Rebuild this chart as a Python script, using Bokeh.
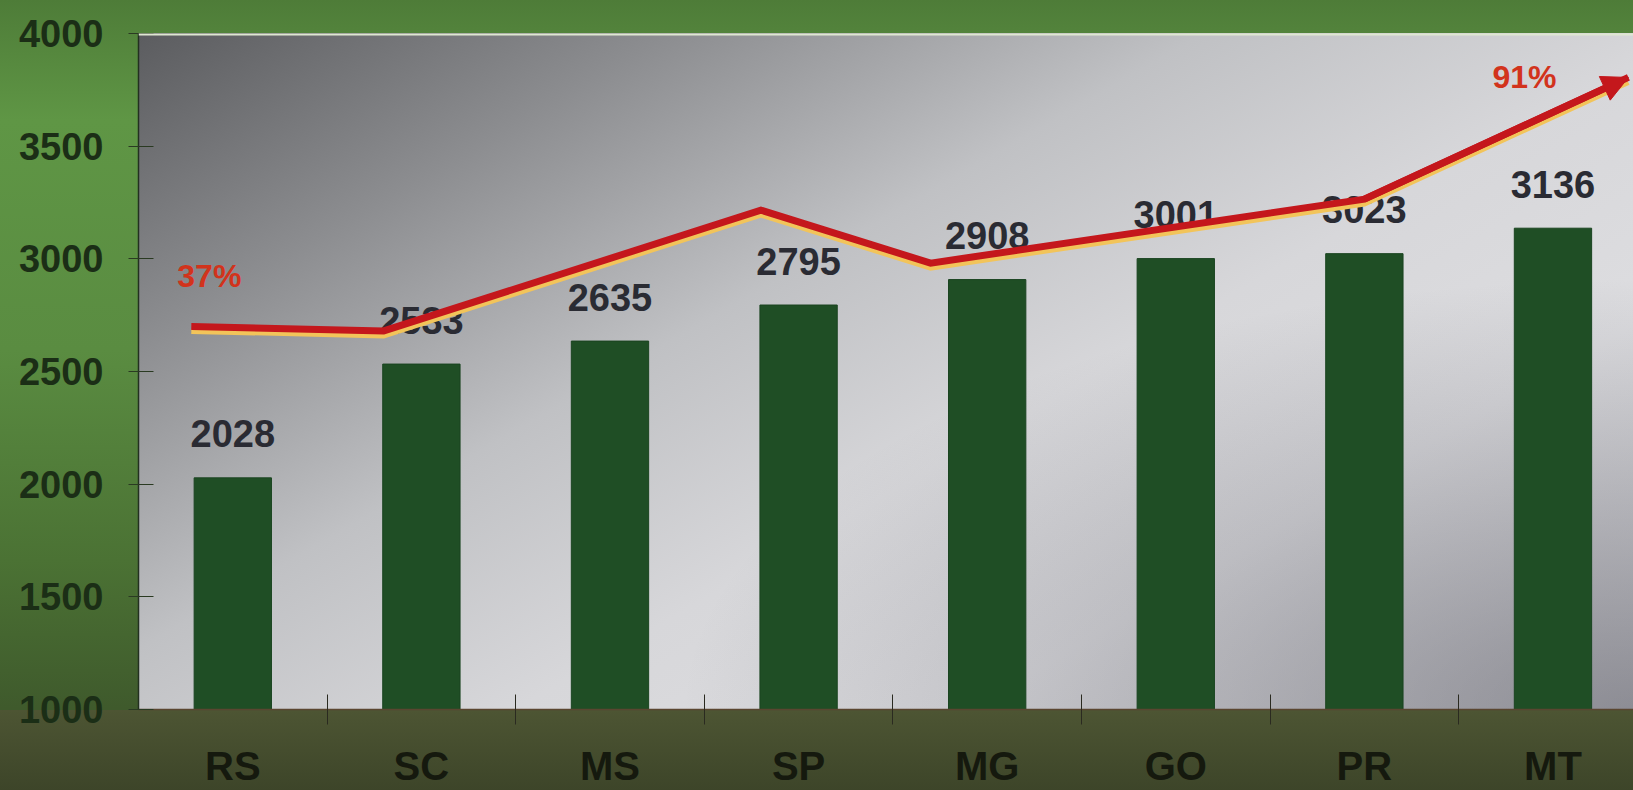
import numpy as np
from bokeh.plotting import figure
from bokeh.models import (Range1d, FixedTicker, Span, Arrow, NormalHead,
                          ColumnDataSource)
from bokeh.core.properties import value
from bokeh.transform import dodge
from bokeh.embed import file_html
from bokeh.resources import INLINE

# ---------------- data ----------------
categories = ["RS", "SC", "MS", "SP", "MG", "GO", "PR", "MT"]
values = [2028, 2533, 2635, 2795, 2908, 3001, 3023, 3136]
y_ticks = [1000, 1500, 2000, 2500, 3000, 3500, 4000]
# trend arrow (in category units along the axis, value units up)
trend_x = [0.28, 1.30, 3.30, 4.20, 6.50, 7.90]
trend_y = [2700, 2680, 3216, 2981, 3265, 3805]
trend_labels = ["37%", "91%"]

# ---------------- layout ----------------
W, H = 1633, 790
LEFT, TOP, BOTTOM = 138, 33, 80
FW, FH = W - LEFT, H - TOP - BOTTOM

centers = np.arange(len(categories)) + 0.5
bounds = list(np.arange(1, len(categories)))

plot_bg = (
    f"radial-gradient(ellipse at 100% 100%, rgba(60,60,72,0.45) 0%, rgba(60,60,72,0) 45%) {LEFT}px {TOP}px / {FW}px {FH}px no-repeat, "
    f"linear-gradient(150deg, #5b5c5f 0%, #8c8d90 20%, #c0c1c4 40%, #d7d7da 58%, #dddde0 75%, #cfcfd3 100%) {LEFT}px {TOP}px / {FW}px {FH}px no-repeat, "
    f"linear-gradient(to bottom, #4d5533 0%, #3d4529 100%) 0px {H - BOTTOM}px / 100% {BOTTOM}px no-repeat, "
    "linear-gradient(to bottom, #4e7c38 0px, #5f9645 120px, #5a8c41 350px, #4b7234 560px, #3f5a2c 708px)"
)

p = figure(width=W, height=H, output_backend="svg", toolbar_location=None,
           x_range=Range1d(0, 7.927), y_range=Range1d(1000, 4000),
           min_border_left=LEFT, min_border_top=TOP, min_border_bottom=BOTTOM,
           min_border_right=0,
           background_fill_color=None, border_fill_color=None,
           outline_line_color=None, styles={"background": plot_bg})

p.grid.visible = False

# bars
src = ColumnDataSource(dict(x=centers, top=values, label=[str(v) for v in values]))
p.vbar(x="x", top="top", bottom=1000, width=0.41, source=src,
       fill_color="#1f4e25", line_color="#1a4420", line_width=1)
p.text(x="x", y="top", text="label", source=src, y_offset=-44,
       text_align="center", text_baseline="middle",
       text_font=value("Liberation Sans"), text_font_style="bold",
       text_font_size="38px", text_color="#2a2b33")

# top light edge
p.add_layout(Span(location=4000, dimension="width", line_color="#dfe7d2", line_width=4))

# trend arrow
tsrc = ColumnDataSource(dict(x=trend_x, y=trend_y))
p.line(x="x", y=dodge("y", -22, range=p.y_range), source=tsrc,
       line_color="#f2c45a", line_width=5, line_join="miter")
p.line(x="x", y="y", source=tsrc, line_color="#c4171c", line_width=7,
       line_join="miter")
p.add_layout(Arrow(x_start=trend_x[-2], y_start=trend_y[-2],
                   x_end=trend_x[-1], y_end=trend_y[-1],
                   line_color="#c4171c", line_width=7,
                   end=NormalHead(size=26, fill_color="#c4171c",
                                  line_color="#c4171c")))
p.text(x=[trend_x[0], trend_x[-1]], y=[trend_y[0], trend_y[-1]],
       text=trend_labels, x_offset=[18, -104], y_offset=[-50, 0],
       text_align="center", text_baseline="middle",
       text_font=value("Liberation Sans"), text_font_style="bold",
       text_font_size="32px", text_color="#d2331c")

# y axis
ya = p.yaxis[0]
ya.ticker = FixedTicker(ticks=y_ticks)
ya.major_label_text_font = "Liberation Sans"
ya.major_label_text_font_style = "bold"
ya.major_label_text_font_size = "38px"
ya.major_label_text_color = "#1b2e16"
ya.major_label_standoff = 25
ya.major_tick_in = 15
ya.major_tick_out = 10
ya.major_tick_line_color = "#2a3a22"
ya.minor_tick_line_color = None
ya.axis_line_color = "#233020"
ya.axis_line_width = 1.5

# x axis
xa = p.xaxis[0]
xa.ticker = FixedTicker(ticks=list(centers), minor_ticks=bounds)
xa.major_label_overrides = {float(c): cat for c, cat in zip(centers, categories)}
xa.major_label_text_font = "Liberation Sans"
xa.major_label_text_font_style = "bold"
xa.major_label_text_font_size = "40px"
xa.major_label_text_color = "#15190e"
xa.major_label_standoff = 19
xa.major_tick_line_color = None
xa.major_tick_in = 0
xa.major_tick_out = 0
xa.minor_tick_in = 15
xa.minor_tick_out = 15
xa.minor_tick_line_color = "#2a2a20"
xa.axis_line_color = "#5a4630"
xa.axis_line_width = 1.5

open("out.html", "w").write(file_html(p, INLINE))
